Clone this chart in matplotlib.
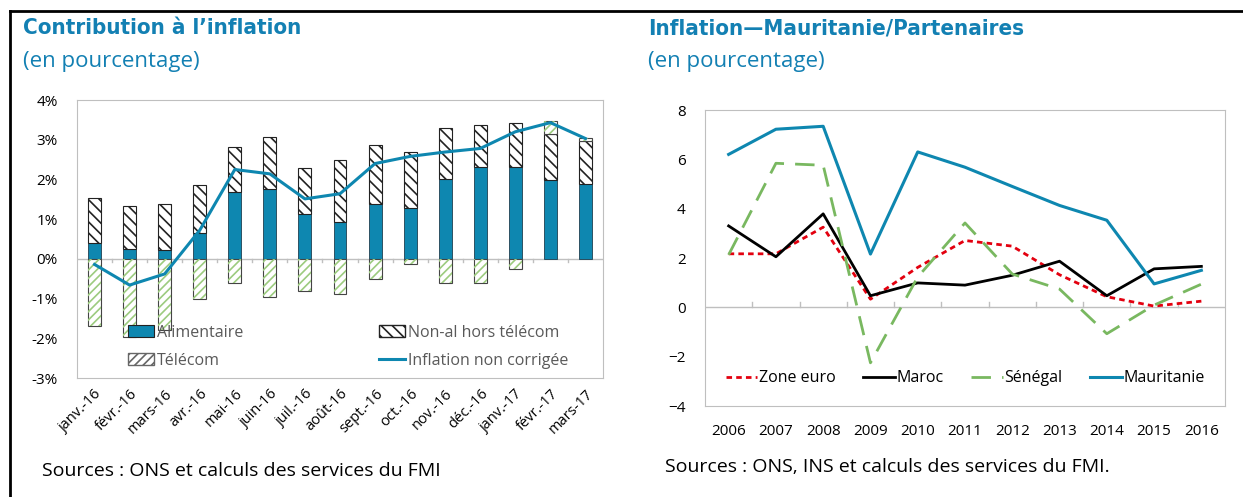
import matplotlib.pyplot as plt
import numpy as np
from matplotlib.patches import Patch
from matplotlib.lines import Line2D

plt.rcParams['font.family'] = ['Open Sans', 'DejaVu Sans']
plt.rcParams['hatch.linewidth'] = 1.2

# left chart data
months = ['janv.-16', 'févr.-16', 'mars-16', 'avr.-16', 'mai-16', 'juin-16', 'juil.-16',
          'août-16', 'sept.-16', 'oct.-16', 'nov.-16', 'déc.-16', 'janv.-17', 'févr.-17', 'mars-17']
alimentaire = [0.41, 0.25, 0.23, 0.64, 1.68, 1.76, 1.13, 0.92, 1.39, 1.29, 2.01, 2.31, 2.32, 1.98, 1.88]
non_al = [1.11, 1.07, 1.16, 1.23, 1.14, 1.31, 1.17, 1.58, 1.47, 1.40, 1.28, 1.07, 1.11, 1.16, 1.08]
telecom = [-1.70, -1.97, -1.80, -1.00, -0.61, -0.95, -0.81, -0.88, -0.51, -0.12, -0.62, -0.60, -0.26, 0.32, 0.09]
inflation = [-0.14, -0.66, -0.38, 0.72, 2.25, 2.14, 1.51, 1.64, 2.40, 2.58, 2.69, 2.78, 3.20, 3.43, 3.03]

# right chart data
years = ['2006', '2007', '2008', '2009', '2010', '2011', '2012', '2013', '2014', '2015', '2016']
zone_euro = [2.17, 2.17, 3.25, 0.33, 1.62, 2.71, 2.48, 1.32, 0.43, 0.05, 0.25]
maroc = [3.30, 2.05, 3.79, 0.47, 0.99, 0.90, 1.30, 1.87, 0.47, 1.56, 1.66]
senegal = [2.13, 5.84, 5.76, -2.25, 1.23, 3.42, 1.35, 0.74, -1.07, 0.09, 0.94]
mauritanie = [6.20, 7.22, 7.34, 2.16, 6.30, 5.68, 4.90, 4.13, 3.53, 0.95, 1.50]

blue = '#0E87B0'
title_blue = '#1380B3'
grey = '#BFBFBF'

fig = plt.figure(figsize=(12.43, 4.97), dpi=100)

# outer frame lines (top and left)
fig.add_artist(Line2D([10/1243, 1], [1-11/497, 1-11/497], color='black', lw=2))
fig.add_artist(Line2D([10/1243, 10/1243], [0, 1-11/497], color='black', lw=2))

# ---------------- left chart ----------------
ax = fig.add_axes([77/1243, 1-378/497, 526/1243, 278/497])
x = np.arange(len(months))
w = 0.37
ax.bar(x, alimentaire, w, color=blue, edgecolor='#1F3F4F', lw=0.6, zorder=2)
ax.bar(x, non_al, w, bottom=alimentaire, color='white', edgecolor='#222222', hatch='\\\\\\', lw=0.8, zorder=2)
tel = np.array(telecom)
tel_bottom = np.where(tel > 0, np.array(alimentaire) + np.array(non_al), 0)
ax.bar(x, tel, w, bottom=tel_bottom, color='white', edgecolor='#444444', lw=0.8, zorder=2)
plt.rcParams['hatch.color'] = '#9CCB7F'
ax.bar(x, tel, w, bottom=tel_bottom, color='none', edgecolor='#9CCB7F', hatch='////', lw=0, zorder=2)
ax.plot(x, inflation, color=blue, lw=2.2, zorder=3)

ax.set_xlim(-0.5, len(months) - 0.5)
ax.set_ylim(-3, 4)
ax.set_yticks(np.arange(-3, 5))
ax.set_yticklabels([f'{v}%' for v in range(-3, 5)])
ax.axhline(0, color=grey, lw=1, zorder=1)
for s in ax.spines.values():
    s.set_color(grey)
ax.tick_params(axis='y', length=0, labelsize=11, pad=14)
ax.set_xticks(x)
ax.set_xticklabels(months, rotation=45, ha='right', rotation_mode='anchor', fontsize=10.5)
ax.tick_params(axis='x', length=0, pad=6)
for b in np.arange(0.5, len(months) - 1, 1):
    ax.plot([b, b], [0, -0.08], color=grey, lw=1, zorder=1)

handles = [Patch(facecolor=blue, edgecolor='#222222', lw=0.8),
           Patch(facecolor='white', edgecolor='#666666', hatch='////'),
           Patch(facecolor='white', edgecolor='#222222', hatch='\\\\\\'),
           Line2D([], [], color=blue, lw=2.2)]
labels = ['Alimentaire', 'Télécom', 'Non-al hors télécom', 'Inflation non corrigée']
leg = ax.legend(handles, labels, ncol=2, loc='upper left', bbox_to_anchor=(0.085, 0.215),
                frameon=False, fontsize=11.5, handlelength=1.6, handletextpad=0.2,
                columnspacing=8.5, labelspacing=0.75, borderaxespad=0)
for t in leg.get_texts():
    t.set_color('#595959')

# ---------------- right chart ----------------
ax2 = fig.add_axes([705/1243, 1-406/497, 520/1243, 296/497])
xr = np.arange(len(years))
ax2.plot(xr, zone_euro, color='#E3000F', lw=2, ls=(0, (2, 1.5)), label='Zone euro')
ax2.plot(xr, maroc, color='black', lw=2, label='Maroc')
ax2.plot(xr, senegal, color='#79B860', lw=2, ls=(0, (7, 4)), label='Sénégal')
ax2.plot(xr, mauritanie, color=blue, lw=2.2, label='Mauritanie')
ax2.set_xlim(-0.5, len(years) - 0.5)
ax2.set_ylim(-4, 8)
ax2.set_yticks(np.arange(-4, 9, 2))
ax2.axhline(0, color=grey, lw=1, zorder=1)
for s in ax2.spines.values():
    s.set_color(grey)
ax2.tick_params(axis='y', length=0, labelsize=11, pad=14)
ax2.set_xticks(xr)
ax2.set_xticklabels(years, fontsize=11)
ax2.tick_params(axis='x', length=0, pad=13)
for b in np.arange(0.5, len(years) - 1, 1):
    ax2.plot([b, b], [0, 0.2], color=grey, lw=1, zorder=1)
leg2 = ax2.legend(ncol=4, loc='lower center', bbox_to_anchor=(0.5, 0.045), frameon=False,
                  fontsize=11.5, handlelength=2.0, handletextpad=0.1, columnspacing=1.7,
                  borderaxespad=0)

# titles and sources
fig.text(23/1243, 1-28/497, 'Contribution à l\u2019inflation', color=title_blue, fontsize=16,
         fontweight='bold', fontstretch='condensed', family=['DejaVu Sans'], va='center')
fig.text(23/1243, 1-62/497, '(en pourcentage)', color=title_blue, fontsize=16, va='center')
fig.text(648/1243, 1-28/497, 'Inflation\u2014Mauritanie/Partenaires', color=title_blue, fontsize=16,
         fontweight='bold', fontstretch='condensed', family=['DejaVu Sans'], va='center')
fig.text(648/1243, 1-62/497, '(en pourcentage)', color=title_blue, fontsize=16, va='center')
fig.text(42/1243, 1-471/497, 'Sources : ONS et calculs des services du FMI', fontsize=14, va='center')
fig.text(665/1243, 1-467/497, 'Sources : ONS, INS et calculs des services du FMI.', fontsize=14, va='center')

fig.savefig('out.png', dpi=100)
